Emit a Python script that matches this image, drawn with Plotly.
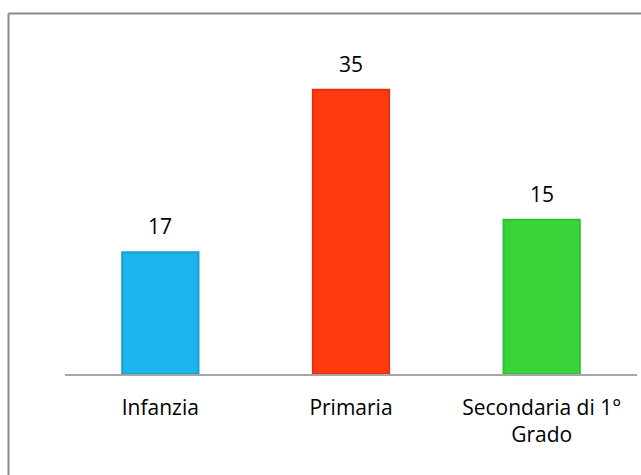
import plotly.graph_objects as go

categories = ["Infanzia", "Primaria", "Secondaria di 1°<br>Grado"]
bar_heights = [15, 35, 19]
label_texts = ["17", "35", "15"]
colors = ["#1CB5EE", "#FF3A0F", "#3AD43A"]
edge_colors = ["#1A9FD2", "#E2330D", "#33BE33"]

fig = go.Figure()
fig.add_trace(go.Bar(
    x=categories, y=bar_heights,
    marker=dict(color=colors, line=dict(color=edge_colors, width=2)),
    width=0.4, hoverinfo="skip",
))

for c, v, t in zip(categories, bar_heights, label_texts):
    fig.add_annotation(x=c, y=v, text=t, showarrow=False, yanchor="bottom",
                       yshift=10, font=dict(size=21, color="#000000"))

bx0 = (8.5 - 65) / 572
by1 = (374 - 13.5) / 325
fig.update_layout(
    width=641, height=475,
    margin=dict(l=65, r=4, t=49, b=101),
    paper_bgcolor="white", plot_bgcolor="white",
    showlegend=False,
    font=dict(family="Open Sans, Liberation Sans, sans-serif", size=21, color="#000000"),
    xaxis=dict(showline=True, linecolor="#A6A6A6", linewidth=1.5, ticks="",
               ticklabelstandoff=14, tickfont=dict(size=21)),
    yaxis=dict(range=[0, 40], visible=False, showgrid=False),
    shapes=[
        dict(type="line", xref="paper", yref="paper", x0=bx0, x1=1.02, y0=by1, y1=by1,
             line=dict(color="#8A8A8A", width=2), layer="below"),
        dict(type="line", xref="paper", yref="paper", x0=bx0, x1=bx0, y0=-0.32, y1=by1,
             line=dict(color="#8A8A8A", width=2), layer="below"),
    ],
)

fig.write_html("out.html", config={"displayModeBar": False},
               post_script="document.body.style.margin='0';document.body.style.padding='0';")
